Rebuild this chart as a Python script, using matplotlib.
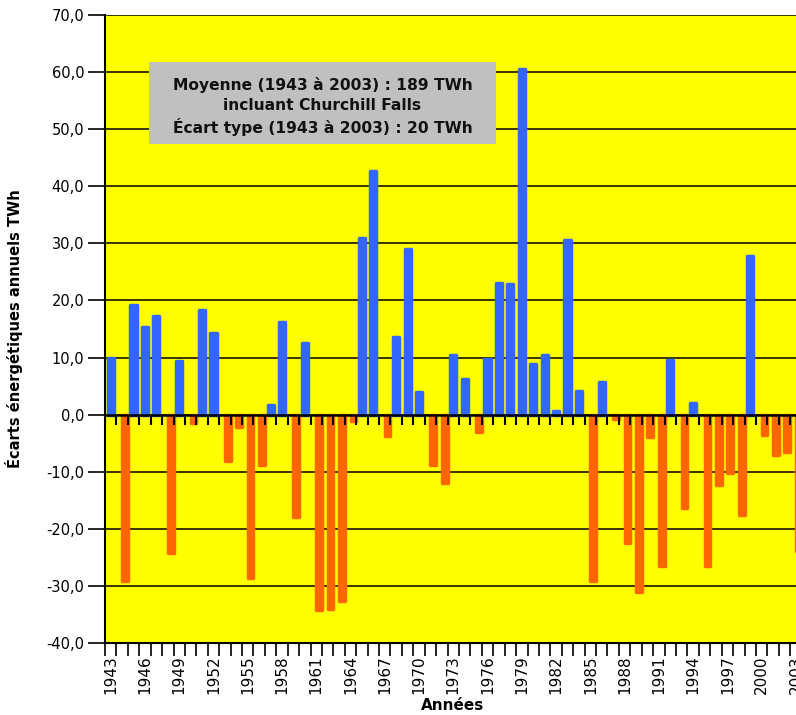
import matplotlib
matplotlib.use("Agg")
import matplotlib.pyplot as plt
import numpy as np

# annual energy deviations, TWh
years = list(range(1943, 2004))
ecarts = [
    10.0, -29.2, 19.2, 15.4, 17.2, -24.2, 9.4, -1.5, 18.3, 14.3,
    -8.2, -2.1, -28.6, -8.8, 1.7, 16.3, -18.0, 12.6, -34.2, -34.0,
    -32.6, -1.2, 31.0, 42.6, -3.7, 13.6, 29.0, 4.0, -8.8, -11.9,
    10.4, 6.2, -3.0, 9.7, 23.0, 22.8, 60.5, 8.9, 10.4, 0.6,
    30.6, 4.1, -29.2, 5.7, -0.8, -22.5, -31.0, -3.9, -26.5, 9.6,
    -16.4, 2.0, -26.5, -12.4, -10.2, -17.5, 27.7, -3.5, -7.0, -6.6,
    -23.9,
]
yticks = [-40, -30, -20, -10, 0, 10, 20, 30, 40, 50, 60, 70]
note = ["Moyenne (1943 à 2003) : 189 TWh",
        "incluant Churchill Falls",
        "Écart type (1943 à 2003) : 20 TWh"]

BLUE = "#3366FF"
ORANGE = "#FF6600"
YELLOW = "#FFFF00"

plt.rcParams["font.family"] = ["DejaVu Sans"]

W, H = 796, 715
fig = plt.figure(figsize=(W / 100, H / 100), dpi=100)
# plot area runs past the right edge, like the original crop
ax = fig.add_axes([105 / W, (H - 643) / H, (801.6 - 105) / W, 628 / H])
ax.set_facecolor(YELLOW)

x = np.arange(len(years))
vals = np.array(ecarts)
pos = np.where(vals > 0, vals, np.nan)
neg = np.where(vals < 0, vals, np.nan)

# thick same-colour edges with round joins give the rounded bar ends
ax.bar(x, pos, width=0.54, color=BLUE, edgecolor=BLUE, linewidth=2.5,
       joinstyle="round", zorder=3)
ax.bar(x + 0.25, neg, width=0.50, color=ORANGE, edgecolor=ORANGE, linewidth=2.5,
       joinstyle="round", zorder=3)

ax.set_xlim(-0.5, len(years) - 0.5)
ax.set_ylim(yticks[0], yticks[-1])

# grid lines
for v in yticks:
    ax.axhline(v, color="black", lw=1.1, zorder=1)

# zero line with little ticks at category boundaries
bounds = np.arange(len(years) + 1) - 0.5
ax.axhline(0, color="black", lw=1.8, zorder=4)
ax.vlines(bounds, -1.8, 0, color="black", lw=1.5, zorder=4)

ax.set_yticks(yticks)
ax.set_yticklabels([f"{v:.1f}".replace(".", ",") for v in yticks], fontsize=10.5)
ax.tick_params(axis="y", length=12, width=1.2, pad=3)

ax.set_xticks(x[::3])
ax.set_xticklabels([str(y) for y in years[::3]], rotation=90, fontsize=11)
ax.set_xticks(bounds, minor=True)
ax.tick_params(axis="x", which="major", length=0, pad=9)
ax.tick_params(axis="x", which="minor", length=9, width=1.2)

for s in ["top", "right"]:
    ax.spines[s].set_visible(False)
ax.spines["left"].set_linewidth(1.5)
ax.spines["bottom"].set_linewidth(1.5)

ax.set_ylabel("Écarts énergétiques annuels TWh", fontsize=10.5, fontweight="bold")
ax.yaxis.set_label_coords(-0.118, 0.5)
fig.text(453 / W, 1 - 705 / H, "Années", ha="center", va="center",
         fontsize=11, fontweight="bold")

# grey note box
box_l, box_r, box_t, box_b = 149, 496, 62, 144
fig.patches.append(plt.Rectangle((box_l / W, 1 - box_b / H), (box_r - box_l) / W,
                                 (box_b - box_t) / H, transform=fig.transFigure,
                                 facecolor="#C0C0C0", edgecolor="none", zorder=5))
for i, line in enumerate(note):
    fig.text((box_l + box_r) / 2 / W, 1 - (85 + 21 * i) / H, line, ha="center",
             va="center", fontsize=11.2, fontweight="bold", color="#111111", zorder=6)

fig.savefig("out.png", dpi=100)
